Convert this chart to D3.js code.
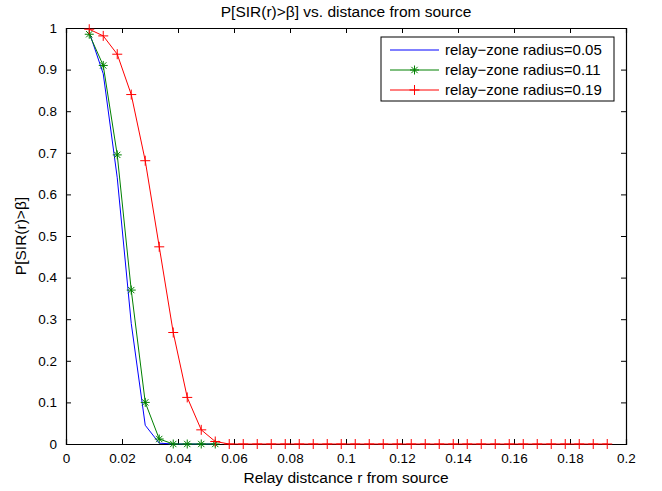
<!DOCTYPE html>
<html>
<head>
<meta charset="utf-8">
<script src="https://cdn.jsdelivr.net/npm/d3@7"></script>
<style>
  body { margin: 0; background: #fff; }
  svg text { font-family: "Liberation Sans", Arial, Helvetica, sans-serif; fill: #000; }
</style>
</head>
<body>
<svg width="662" height="491"></svg>
<script>
// relay distance samples (every 0.005 starting at ~0.0083)
const xBlue = [0.0083, 0.0133, 0.0183, 0.0233, 0.0283, 0.0333, 0.0383, 0.0433, 0.0483, 0.0533];
const yBlue = [0.99, 0.89, 0.64, 0.29, 0.045, 0.002, 0, 0, 0, 0];

const xGreen = [0.0083, 0.0133, 0.0183, 0.0233, 0.0283, 0.0333, 0.0383, 0.0433, 0.0483, 0.0533];
const yGreen = [0.985, 0.91, 0.695, 0.37, 0.10, 0.012, 0, 0, 0, 0];

const xRed = [0.0083, 0.0133, 0.0183, 0.0233, 0.0283, 0.0333, 0.0383, 0.0433, 0.0483, 0.0533,
  0.0583, 0.0633, 0.0683, 0.0733, 0.0783, 0.0833, 0.0883, 0.0933, 0.0983, 0.1033,
  0.1083, 0.1133, 0.1183, 0.1233, 0.1283, 0.1333, 0.1383, 0.1433, 0.1483, 0.1533,
  0.1583, 0.1633, 0.1683, 0.1733, 0.1783, 0.1833, 0.1883, 0.1933];
const yRed = [0.997, 0.981, 0.937, 0.84, 0.681, 0.474, 0.268, 0.112, 0.034, 0.006,
  0, 0, 0, 0, 0, 0, 0, 0, 0, 0,
  0, 0, 0, 0, 0, 0, 0, 0, 0, 0,
  0, 0, 0, 0, 0, 0, 0, 0];

const xTicks = [0, 0.02, 0.04, 0.06, 0.08, 0.1, 0.12, 0.14, 0.16, 0.18, 0.2];
const yTicks = [0, 0.1, 0.2, 0.3, 0.4, 0.5, 0.6, 0.7, 0.8, 0.9, 1];
const legendLabels = ["relay\u2212zone radius=0.05", "relay\u2212zone radius=0.11", "relay\u2212zone radius=0.19"];

let margin = { top: 28, right: 36, bottom: 47, left: 66 };
let width = 662, height = 491;

let xScale = d3.scaleLinear().domain([0, 0.2]).range([margin.left, width - margin.right]);
let yScale = d3.scaleLinear().domain([0, 1]).range([height - margin.bottom, margin.top]);

let svg = d3.select("svg");

let fmt = d => d === 0 ? "0" : d === 1 ? "1" : d3.format("")(+d.toFixed(2));

// axes: ticks pointing inward, box all around
svg.append("g")
  .attr("transform", `translate(0,${yScale(0)})`)
  .call(d3.axisBottom(xScale).tickValues(xTicks).tickSize(-5).tickPadding(9).tickFormat(fmt))
  .call(g => g.selectAll("text").attr("font-size", 13.5));
svg.append("g")
  .attr("transform", `translate(0,${yScale(1)})`)
  .call(d3.axisTop(xScale).tickValues(xTicks).tickSize(-5).tickFormat(""));
svg.append("g")
  .attr("transform", `translate(${xScale(0)},0)`)
  .call(d3.axisLeft(yScale).tickValues(yTicks).tickSize(-5).tickPadding(9).tickFormat(fmt))
  .call(g => g.selectAll("text").attr("font-size", 13.5));
svg.append("g")
  .attr("transform", `translate(${xScale(0.2)},0)`)
  .call(d3.axisRight(yScale).tickValues(yTicks).tickSize(-5).tickFormat(""));

svg.selectAll(".domain").attr("stroke", "#000").attr("stroke-width", 1.2);
svg.selectAll(".tick line").attr("stroke", "#000");

let line = d3.line().x(d => xScale(d[0])).y(d => yScale(d[1]));

function drawSeries(xs, ys, color) {
  let pts = xs.map((x, i) => [x, ys[i]]);
  svg.append("path")
    .datum(pts)
    .attr("d", line)
    .attr("fill", "none")
    .attr("stroke", color)
    .attr("stroke-width", 1);
  return pts;
}

function star(g, cx, cy, r, color) {
  let d = `M${cx - r},${cy}H${cx + r}M${cx},${cy - r}V${cy + r}` +
    `M${cx - r * 0.7},${cy - r * 0.7}L${cx + r * 0.7},${cy + r * 0.7}` +
    `M${cx - r * 0.7},${cy + r * 0.7}L${cx + r * 0.7},${cy - r * 0.7}`;
  g.append("path").attr("d", d).attr("stroke", color).attr("stroke-width", 1).attr("fill", "none");
}

function plus(g, cx, cy, r, color) {
  g.append("path")
    .attr("d", `M${cx - r},${cy}H${cx + r}M${cx},${cy - r}V${cy + r}`)
    .attr("stroke", color).attr("stroke-width", 1).attr("fill", "none");
}

drawSeries(xBlue, yBlue, "#0000ff");
let gPts = drawSeries(xGreen, yGreen, "#008000");
let rPts = drawSeries(xRed, yRed, "#ff0000");

let markers = svg.append("g");
gPts.forEach(p => star(markers, xScale(p[0]), yScale(p[1]), 4.5, "#008000"));
rPts.forEach(p => plus(markers, xScale(p[0]), yScale(p[1]), 5, "#ff0000"));

// title and labels
svg.append("text")
  .attr("x", (xScale(0) + xScale(0.2)) / 2)
  .attr("y", 17)
  .attr("text-anchor", "middle")
  .attr("font-size", 15.5)
  .text("P[SIR(r)>\u03B2] vs. distance from source");

svg.append("text")
  .attr("x", (xScale(0) + xScale(0.2)) / 2)
  .attr("y", 483)
  .attr("text-anchor", "middle")
  .attr("font-size", 15.5)
  .text("Relay distcance r from source");

svg.append("text")
  .attr("transform", `translate(26,${(yScale(0) + yScale(1)) / 2}) rotate(-90)`)
  .attr("text-anchor", "middle")
  .attr("font-size", 15.5)
  .text("P[SIR(r)>\u03B2]");

// legend
let legend = svg.append("g");
legend.append("rect")
  .attr("x", 381).attr("y", 37).attr("width", 233).attr("height", 64)
  .attr("fill", "#fff").attr("stroke", "#000").attr("stroke-width", 1);

let legColors = ["#0000ff", "#008000", "#ff0000"];
legendLabels.forEach((lab, i) => {
  let ly = 50 + i * 20;
  legend.append("line")
    .attr("x1", 390).attr("x2", 439).attr("y1", ly).attr("y2", ly)
    .attr("stroke", legColors[i]).attr("stroke-width", 1);
  if (i === 1) star(legend, 414.5, ly, 4.5, legColors[i]);
  if (i === 2) plus(legend, 414.5, ly, 5, legColors[i]);
  legend.append("text")
    .attr("x", 445).attr("y", ly + 5)
    .attr("font-size", 15)
    .text(lab);
});
</script>
</body>
</html>
